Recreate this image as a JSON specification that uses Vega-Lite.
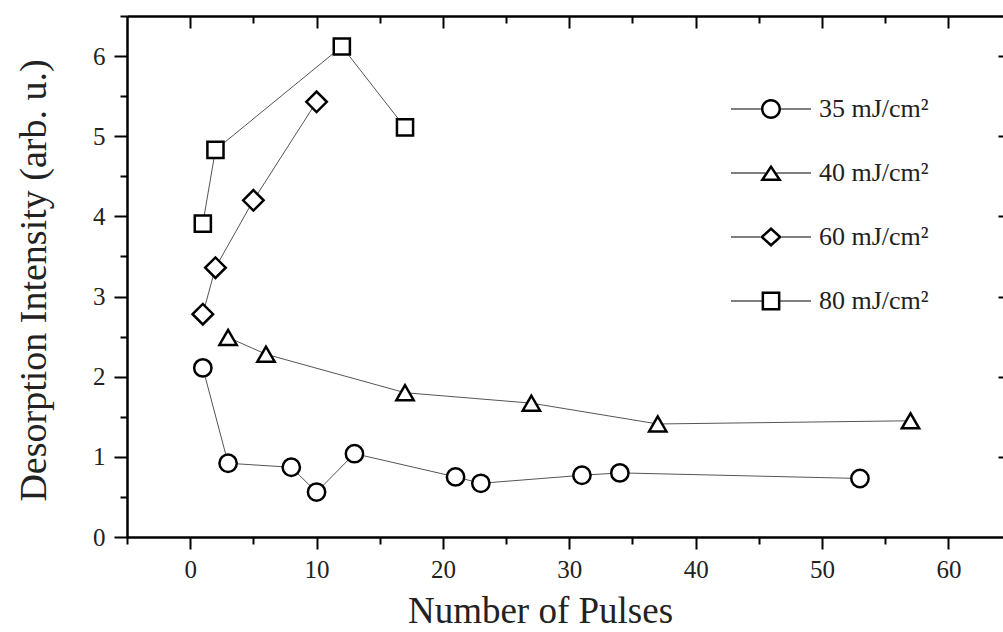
{
  "$schema": "https://vega.github.io/schema/vega-lite/v6.json",
  "width": 876,
  "height": 521,
  "autosize": {"type": "none"},
  "padding": {"left": 127, "top": 16, "right": 0, "bottom": 95},
  "background": "white",
  "config": {
    "view": {"stroke": null},
    "font": "Liberation Serif",
    "axis": {
      "grid": false,
      "domainColor": "black",
      "domainWidth": 2.5,
      "tickColor": "black",
      "tickWidth": 2,
      "labelFont": "Liberation Serif",
      "labelFontSize": 25,
      "labelColor": "#222",
      "titleFont": "Liberation Serif",
      "titleFontWeight": "normal",
      "titleColor": "#222"
    }
  },
  "data": {
    "values": [
      {"fluence": "35", "pulses": 1, "intensity": 2.11},
      {"fluence": "35", "pulses": 3, "intensity": 0.92},
      {"fluence": "35", "pulses": 8, "intensity": 0.87},
      {"fluence": "35", "pulses": 10, "intensity": 0.56},
      {"fluence": "35", "pulses": 13, "intensity": 1.04},
      {"fluence": "35", "pulses": 21, "intensity": 0.75},
      {"fluence": "35", "pulses": 23, "intensity": 0.67},
      {"fluence": "35", "pulses": 31, "intensity": 0.77},
      {"fluence": "35", "pulses": 34, "intensity": 0.8},
      {"fluence": "35", "pulses": 53, "intensity": 0.73},
      {"fluence": "40", "pulses": 3, "intensity": 2.49},
      {"fluence": "40", "pulses": 6, "intensity": 2.28},
      {"fluence": "40", "pulses": 17, "intensity": 1.8},
      {"fluence": "40", "pulses": 27, "intensity": 1.67},
      {"fluence": "40", "pulses": 37, "intensity": 1.41},
      {"fluence": "40", "pulses": 57, "intensity": 1.45},
      {"fluence": "60", "pulses": 1, "intensity": 2.78},
      {"fluence": "60", "pulses": 2, "intensity": 3.36},
      {"fluence": "60", "pulses": 5, "intensity": 4.2},
      {"fluence": "60", "pulses": 10, "intensity": 5.43},
      {"fluence": "80", "pulses": 1, "intensity": 3.91},
      {"fluence": "80", "pulses": 2, "intensity": 4.83},
      {"fluence": "80", "pulses": 12, "intensity": 6.12},
      {"fluence": "80", "pulses": 17, "intensity": 5.11}
    ]
  },
  "layer": [
    {
      "mark": {"type": "line", "color": "#555", "strokeWidth": 1},
      "encoding": {
        "x": {
          "field": "pulses",
          "type": "quantitative",
          "scale": {"domain": [-5, 64.32], "nice": false, "zero": false},
          "axis": {
            "orient": "bottom",
            "values": [0, 10, 20, 30, 40, 50, 60],
            "format": "d",
            "tickSize": 12,
            "labelPadding": 8,
            "title": "Number of Pulses",
            "titleFontSize": 37,
            "titleX": 413,
            "titleY": 85,
            "titleBaseline": "alphabetic",
            "titleAlign": "center"
          }
        },
        "y": {
          "field": "intensity",
          "type": "quantitative",
          "scale": {"domain": [0, 6.5], "nice": false, "zero": false},
          "axis": {
            "orient": "left",
            "values": [0, 1, 2, 3, 4, 5, 6],
            "format": "d",
            "tickSize": 13,
            "labelPadding": 9,
            "title": "Desorption Intensity (arb. u.)",
            "titleFontSize": 38,
            "titleAngle": -90,
            "titleX": -82,
            "titleY": 264,
            "titleBaseline": "alphabetic",
            "titleAlign": "center"
          }
        },
        "detail": {"field": "fluence", "type": "nominal"}
      }
    },
    {
      "mark": {
        "type": "point",
        "filled": true,
        "fill": "white",
        "stroke": "black",
        "strokeWidth": 2.5,
        "opacity": 1
      },
      "encoding": {
        "x": {
          "field": "pulses",
          "type": "quantitative",
          "axis": {
            "orient": "bottom",
            "values": [-5, 5, 15, 25, 35, 45, 55],
            "tickSize": 7,
            "labels": false,
            "domain": false,
            "title": null
          }
        },
        "y": {
          "field": "intensity",
          "type": "quantitative",
          "axis": {
            "orient": "left",
            "values": [0.5, 1.5, 2.5, 3.5, 4.5, 5.5, 6.5],
            "tickSize": 7,
            "labels": false,
            "domain": false,
            "title": null
          }
        },
        "shape": {
          "field": "fluence",
          "type": "nominal",
          "scale": {
            "domain": ["35", "40", "60", "80"],
            "range": ["circle", "triangle-up", "diamond", "square"]
          },
          "legend": null
        },
        "size": {
          "condition": [
            {"test": "datum.fluence === '60'", "value": 420},
            {"test": "datum.fluence === '80'", "value": 260}
          ],
          "value": 300
        }
      }
    },
    {
      "mark": {"type": "point", "filled": true, "color": "black", "strokeWidth": 0, "opacity": 0, "size": 400},
      "encoding": {
        "x": {
          "field": "pulses",
          "type": "quantitative",
          "axis": {
            "orient": "top",
            "values": [0, 10, 20, 30, 40, 50, 60],
            "tickSize": -12,
            "labels": false,
            "title": null
          }
        },
        "y": {
          "field": "intensity",
          "type": "quantitative",
          "axis": {
            "orient": "right",
            "values": [1, 2, 3, 4, 5, 6],
            "tickSize": -5,
            "labels": false,
            "domain": false,
            "title": null
          }
        },
        "shape": {
          "field": "fluence",
          "type": "nominal",
          "scale": {
            "domain": ["35", "40", "60", "80"],
            "range": [
              "M-4,-0.06H-1V0.06H-4Z M1,-0.06H4V0.06H1Z M1,0A1,1,0,1,1,-1,0A1,1,0,1,1,1,0Z M0.75,0A0.75,0.75,0,1,0,-0.75,0A0.75,0.75,0,1,0,0.75,0Z",
              "M-4,-0.06H-0.56V0.06H-4Z M0.56,-0.06H4V0.06H0.56Z M0,-0.84L1.1,0.8L-1.1,0.8Z M0,-0.39L-0.63,0.55L0.63,0.55Z",
              "M-4,-0.06H-1.1V0.06H-4Z M1.1,-0.06H4V0.06H1.1Z M0,-1L1.1,0L0,1L-1.1,0Z M0,-0.662L-0.728,0L0,0.662L0.728,0Z",
              "M-4,-0.06H-0.94V0.06H-4Z M0.94,-0.06H4V0.06H0.94Z M-0.94,-0.94H0.94V0.94H-0.94Z M-0.69,-0.69V0.69H0.69V-0.69Z"
            ]
          },
          "legend": {
            "orient": "none",
            "legendX": 631,
            "legendY": 80,
            "title": null,
            "padding": 0,
            "symbolSize": 400,
            "symbolOpacity": 1,
            "symbolFillColor": "black",
            "symbolStrokeWidth": 0,
            "labelFont": "Liberation Serif",
            "labelFontSize": 26,
            "labelColor": "#222",
            "labelOffset": 35,
            "labelLimit": 300,
            "rowPadding": 38,
            "labelExpr": "datum.label + ' mJ/cm²'"
          }
        }
      }
    },
    {
      "mark": {"type": "point", "opacity": 0},
      "encoding": {
        "x": {
          "field": "pulses",
          "type": "quantitative",
          "axis": {
            "orient": "top",
            "values": [5, 15, 25, 35, 45, 55],
            "tickSize": -7,
            "labels": false,
            "domain": false,
            "title": null
          }
        },
        "y": {
          "field": "intensity",
          "type": "quantitative",
          "axis": null
        }
      }
    }
  ],
  "resolve": {"axis": {"x": "independent", "y": "independent"}, "scale": {"shape": "independent"}}
}
